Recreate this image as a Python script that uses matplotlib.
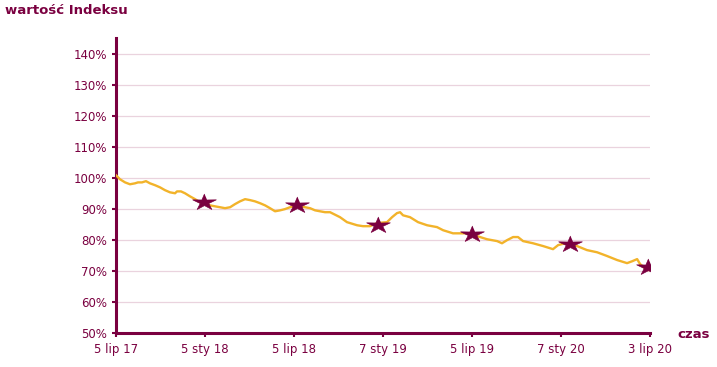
import numpy as np
import matplotlib.pyplot as plt

# index line, x in months since 5 Jul 2017
months = [0.0, 0.27, 0.61, 0.94, 1.28, 1.48, 1.75, 2.02, 2.29, 2.63, 2.97, 3.30, 3.64, 3.98,
          4.11, 4.38, 4.65, 4.99, 5.33, 5.66, 6.00, 6.34, 6.67, 7.01, 7.35, 7.69, 8.02, 8.36,
          8.70, 9.03, 9.37, 9.71, 10.05, 10.38, 10.72, 11.06, 11.39, 11.73, 12.00, 12.40,
          12.74, 13.08, 13.42, 13.75, 14.09, 14.43, 15.10, 15.57, 16.25, 16.65, 17.12, 17.60,
          18.27, 18.61, 18.94, 19.15, 19.35, 19.82, 20.36, 20.97, 21.64, 22.05, 22.72, 23.39,
          23.87, 24.34, 25.01, 25.69, 26.02, 26.36, 26.77, 27.10, 27.44, 28.11, 28.79, 29.46,
          29.80, 30.27, 31.08, 31.75, 32.43, 33.10, 33.78, 34.45, 34.79, 35.13, 35.33, 35.80,
          36.00]
values = [100.8, 99.5, 98.5, 97.9, 98.2, 98.5, 98.5, 98.9, 98.2, 97.6, 96.9, 96.0, 95.3, 95.0,
          95.6, 95.6, 95.0, 94.0, 93.1, 92.1, 91.8, 91.1, 90.8, 90.5, 90.2, 90.5, 91.5, 92.4,
          93.1, 92.8, 92.4, 91.8, 91.1, 90.2, 89.2, 89.5, 89.9, 90.5, 90.8, 90.8,
          90.5, 90.2, 89.5, 89.2, 88.9, 88.9, 87.3, 85.7, 84.7, 84.4, 84.4, 85.4,
          85.7, 87.3, 88.6, 88.9, 87.9, 87.3, 85.7, 84.7, 84.1, 83.1, 82.1, 82.1,
          82.1, 81.2, 80.2, 79.6, 78.9, 79.9, 80.9, 80.9, 79.6, 78.9, 78.0, 77.0,
          78.3, 78.9, 78.0, 76.7, 76.0, 74.8, 73.5, 72.5, 73.1, 73.8, 72.2, 70.3,
          70.3]

# star markers
star_months = [5.93, 12.2, 17.66, 24.0, 30.6, 35.87]
star_values = [92.1, 91.1, 84.7, 81.8, 78.6, 71.2]

tick_pos = [0, 6, 12, 18, 24, 30, 36]
tick_labels = ['5 lip 17', '5 sty 18', '5 lip 18', '7 sty 19', '5 lip 19', '7 sty 20', '3 lip 20']
y_ticks = [50, 60, 70, 80, 90, 100, 110, 120, 130, 140]

maroon = '#7a0040'
gold = '#f2b32a'

# a wide, flat five-point star like the original
ang = np.deg2rad(90 + 36 * np.arange(10))
rad = np.where(np.arange(10) % 2 == 0, 1.0, 0.36)
star = np.column_stack([1.45 * rad * np.cos(ang), rad * np.sin(ang)])

fig = plt.figure(figsize=(7.17, 3.67), dpi=100)
ax = fig.add_axes([0.1618, 0.0926, 0.7448, 0.8039])

ax.plot(months, values, color=gold, lw=1.7, zorder=3)
ax.plot(star_months, star_values, ls='none', marker=star, ms=17,
        color=maroon, mec=maroon, mew=0.5, zorder=4)

ax.set_xlim(0, 36)
ax.set_ylim(50, 145)
ax.set_xticks(tick_pos)
ax.set_xticklabels(tick_labels)
ax.set_yticks(y_ticks)
ax.set_yticklabels([f'{v}%' for v in y_ticks])

ax.grid(axis='y', color='#ead3de', lw=0.9)
ax.set_axisbelow(True)
for s in ['top', 'right']:
    ax.spines[s].set_visible(False)
for s in ['left', 'bottom']:
    ax.spines[s].set_color(maroon)
    ax.spines[s].set_linewidth(2.2)
ax.tick_params(colors=maroon, labelcolor=maroon, labelsize=8.5, length=3, width=1.5)
ax.tick_params(axis='x', pad=4)

fig.text(5 / 717, 1 - 10 / 367, 'wartość Indeksu', color=maroon, fontsize=9.5,
         fontweight='bold', va='center', ha='left')
fig.text(677 / 717, 1 - 335 / 367, 'czas', color=maroon, fontsize=9.5,
         fontweight='bold', va='center', ha='left')

fig.savefig('out.png', dpi=100)
